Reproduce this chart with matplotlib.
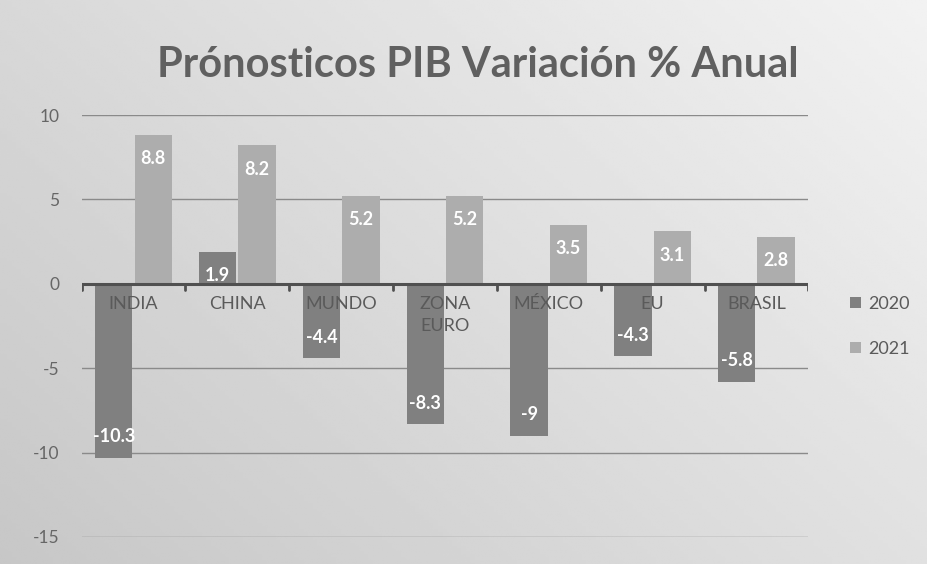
import matplotlib.pyplot as plt
import numpy as np

# data
paises = ["INDIA", "CHINA", "MUNDO", "ZONA\nEURO", "MÉXICO", "EU", "BRASIL"]
pib_2020 = [-10.3, 1.9, -4.4, -8.3, -9, -4.3, -5.8]
pib_2021 = [8.8, 8.2, 5.2, 5.2, 3.5, 3.1, 2.8]
etiquetas_2020 = ["-10.3", "1.9", "-4.4", "-8.3", "-9", "-4.3", "-5.8"]
etiquetas_2021 = ["8.8", "8.2", "5.2", "5.2", "3.5", "3.1", "2.8"]
yticks = [10, 5, 0, -5, -10, -15]
ytick_labels = ["10", "5", "0", "-5", "-10", "-15"]

plt.rcParams['font.family'] = ['Lato', 'DejaVu Sans']

fig = plt.figure(figsize=(9.27, 5.64), dpi=100)

# greyish photo-like background, lighter towards the top right
bg = fig.add_axes([0, 0, 1, 1], zorder=-10)
gx, gy = np.meshgrid(np.linspace(0, 1, 200), np.linspace(0, 1, 200))
grad = 0.6 * gx + 0.4 * gy
bg.imshow(grad, cmap='gray', vmin=-4.6, vmax=1.3, origin='lower',
          aspect='auto', extent=[0, 1, 0, 1])
bg.axis('off')

ax = fig.add_axes([0.088, 0.048, 0.784, 0.748])
ax.patch.set_alpha(0)

x = np.arange(len(paises))
w = 0.36
c2020 = '#808080'
c2021 = '#adadad'
b1 = ax.bar(x - w / 2 - 0.01, pib_2020, w, color=c2020, label='2020', zorder=3)
b2 = ax.bar(x + w / 2 + 0.01, pib_2021, w, color=c2021, label='2021', zorder=3)

for bars, vals, labs in [(b1, pib_2020, etiquetas_2020), (b2, pib_2021, etiquetas_2021)]:
    for r, v, t in zip(bars, vals, labs):
        off = -17 if v > 0 else 15
        ax.annotate(t, (r.get_x() + r.get_width() / 2, v), xytext=(0, off),
                    textcoords='offset points', ha='center', va='center',
                    color='white', fontsize=13, fontweight='bold', zorder=5)

ax.set_xlim(-0.5, len(paises) - 0.5)
ax.set_ylim(-15, 10)
ax.set_yticks(yticks, ytick_labels)
ax.tick_params(axis='y', length=0, labelsize=12.5, labelcolor='#666666', pad=16)
ax.grid(axis='y', color='#8a8a8a', linewidth=1, zorder=0)

# category axis at zero with ticks between categories
ax.axhline(0, color='#505050', linewidth=2.2, zorder=4)
for b in np.arange(-0.5, len(paises), 1.0):
    ax.plot([b, b], [0, -0.35], color='#505050', linewidth=2, zorder=4,
            solid_capstyle='round')
ax.set_xticks([])
for xi, p in zip(x, paises):
    ax.text(xi, -0.75, p, ha='center', va='top', fontsize=13,
            color='#5a5a5a', zorder=6, linespacing=1.45)

for s in ax.spines.values():
    s.set_visible(False)

leg = ax.legend(loc='upper left', bbox_to_anchor=(1.035, 0.61), frameon=False,
                fontsize=13, handlelength=0.6, handleheight=0.6,
                labelspacing=1.6, handletextpad=0.4)
for t in leg.get_texts():
    t.set_color('#5a5a5a')

fig.text(0.515, 0.885, "Prónosticos PIB Variación % Anual", ha='center',
         va='center', fontsize=30, fontweight='bold', color='#606060')

fig.savefig('out.png', dpi=100)
